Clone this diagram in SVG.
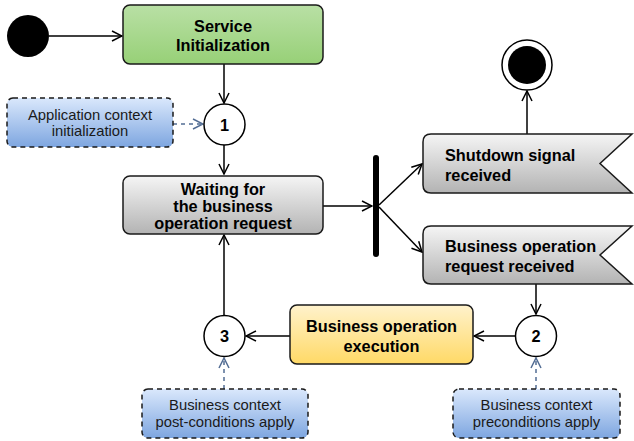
<svg xmlns="http://www.w3.org/2000/svg" width="634" height="441" viewBox="0 0 634 441">
<defs>
<linearGradient id="gGreen" x1="0" y1="0" x2="0" y2="1"><stop offset="0" stop-color="#b9e0a5"/><stop offset="1" stop-color="#97d077"/></linearGradient>
<linearGradient id="gGray" x1="0" y1="0" x2="0" y2="1"><stop offset="0" stop-color="#f5f5f5"/><stop offset="1" stop-color="#b3b3b3"/></linearGradient>
<linearGradient id="gYellow" x1="0" y1="0" x2="0" y2="1"><stop offset="0" stop-color="#fff2cc"/><stop offset="1" stop-color="#ffd966"/></linearGradient>
<linearGradient id="gBlue" x1="0" y1="0" x2="0" y2="1"><stop offset="0" stop-color="#dae8fc"/><stop offset="1" stop-color="#7ea6e0"/></linearGradient>
<marker id="arr" viewBox="0 0 12 12" refX="11" refY="6" markerWidth="12" markerHeight="12" markerUnits="userSpaceOnUse" orient="auto"><path d="M1,1 L11,6 L1,11" fill="none" stroke="#000" stroke-width="1.5"/></marker>
<marker id="arrB" viewBox="0 0 12 12" refX="11" refY="6" markerWidth="12" markerHeight="12" markerUnits="userSpaceOnUse" orient="auto"><path d="M1,1 L11,6 L1,11" fill="none" stroke="#536d94" stroke-width="1.5"/></marker>
</defs>
<style>
.box{stroke:#1a1a1a;stroke-width:1.5}
.note{fill:url(#gBlue);stroke:#1a1a1a;stroke-width:1.5;stroke-dasharray:5 4}
.circ{fill:#fff;stroke:#000;stroke-width:1.5}
.t{font-family:"Liberation Sans",Arial,sans-serif;font-size:16.3px;font-weight:bold;fill:#000;text-anchor:middle}
.tl{font-family:"Liberation Sans",Arial,sans-serif;font-size:16.3px;font-weight:bold;fill:#000}
.n{font-family:"Liberation Sans",Arial,sans-serif;font-size:14.8px;fill:#1a1a1a;text-anchor:middle}
.c{stroke:#000;stroke-width:1.5;fill:none;marker-end:url(#arr)}
.d{stroke:#536d94;stroke-width:1.5;fill:none;stroke-dasharray:4 4;marker-end:url(#arrB)}
</style>
<g id="connectors">
<line class="c" x1="49" y1="36" x2="122" y2="36"/>
<line class="c" x1="224" y1="64" x2="224" y2="103"/>
<line class="d" x1="173" y1="124" x2="203" y2="124"/>
<line class="c" x1="224" y1="145" x2="224" y2="174"/>
<line class="c" x1="323" y1="206" x2="372" y2="206"/>
<line class="c" x1="379" y1="205" x2="422" y2="164"/>
<line class="c" x1="379" y1="207" x2="422" y2="252"/>
<line class="c" x1="527" y1="134" x2="527" y2="91"/>
<line class="c" x1="536" y1="284" x2="536" y2="314"/>
<line class="c" x1="515" y1="336" x2="474" y2="336"/>
<line class="c" x1="290" y1="336" x2="246" y2="336"/>
<line class="c" x1="224" y1="315" x2="224" y2="235"/>
<line class="d" x1="224" y1="389" x2="224" y2="358"/>
<line class="d" x1="536" y1="389" x2="536" y2="358"/>
</g>
<g id="start"><circle cx="28" cy="36" r="21" fill="#000"/></g>
<g id="service-init">
<rect class="box" x="123" y="5" width="200" height="59" rx="7" fill="url(#gGreen)"/>
<text class="t" x="223" y="32">Service</text>
<text class="t" x="223" y="51">Initialization</text>
</g>
<g id="app-context">
<rect class="note" x="7" y="98" width="166" height="49" rx="6"/>
<text class="n" x="90" y="120">Application context</text>
<text class="n" x="90" y="136">initialization</text>
</g>
<g id="c1"><circle class="circ" cx="224.5" cy="124.5" r="20.5"/><text class="t" x="224.5" y="130.5">1</text></g>
<g id="waiting">
<rect class="box" x="123" y="176" width="200" height="58" rx="7" fill="url(#gGray)"/>
<text class="t" x="223" y="195">Waiting for</text>
<text class="t" x="223" y="212">the business</text>
<text class="t" x="223" y="229">operation request</text>
</g>
<g id="fork"><rect x="373" y="155" width="6" height="102" rx="3" fill="#000"/></g>
<g id="end"><circle cx="527" cy="65" r="25" fill="#fff" stroke="#000" stroke-width="1.5"/><circle cx="527" cy="65" r="19" fill="#000"/></g>
<g id="shutdown">
<path class="box" d="M431,134 L632,134 L600,163.5 L632,193 L431,193 Q423,193 423,185 L423,142 Q423,134 431,134 Z" fill="url(#gGray)"/>
<text class="tl" x="445" y="161">Shutdown signal</text>
<text class="tl" x="445" y="181">received</text>
</g>
<g id="request-received">
<path class="box" d="M431,226 L632,226 L600,255 L632,284 L431,284 Q423,284 423,276 L423,234 Q423,226 431,226 Z" fill="url(#gGray)"/>
<text class="tl" x="445" y="252">Business operation</text>
<text class="tl" x="445" y="272">request received</text>
</g>
<g id="c2"><circle class="circ" cx="536" cy="336" r="20.5"/><text class="t" x="536" y="342">2</text></g>
<g id="execution">
<rect class="box" x="290" y="305" width="183" height="59" rx="7" fill="url(#gYellow)"/>
<text class="t" x="381.5" y="332">Business operation</text>
<text class="t" x="381.5" y="352">execution</text>
</g>
<g id="c3"><circle class="circ" cx="224.5" cy="336" r="20.5"/><text class="t" x="224.5" y="342">3</text></g>
<g id="post-conditions">
<rect class="note" x="142" y="389" width="166" height="49" rx="6"/>
<text class="n" x="225" y="410">Business context</text>
<text class="n" x="225" y="427">post-conditions apply</text>
</g>
<g id="pre-conditions">
<rect class="note" x="453" y="389" width="167" height="49" rx="6"/>
<text class="n" x="536.5" y="410">Business context</text>
<text class="n" x="536.5" y="427">preconditions apply</text>
</g>
</svg>
